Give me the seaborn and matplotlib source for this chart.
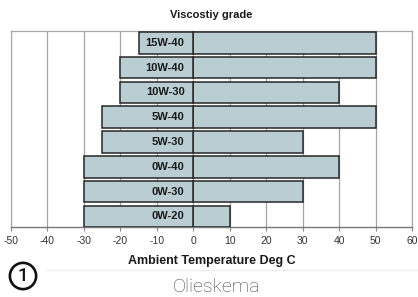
import numpy as np
import pandas as pd
import matplotlib.pyplot as plt
import seaborn as sns

grades = ["15W-40", "10W-40", "10W-30", "5W-40", "5W-30", "0W-40", "0W-30", "0W-20"]
low_temp = [-15, -20, -20, -25, -25, -30, -30, -30]
high_temp = [50, 50, 40, 50, 30, 40, 30, 10]
xticks = [-50, -40, -30, -20, -10, 0, 10, 20, 30, 40, 50, 60]

df = pd.DataFrame({"grade": grades, "low": low_temp, "high": high_temp})

sns.set_theme(style="white")
plt.rcParams["font.family"] = ["Liberation Sans", "DejaVu Sans"]

fig = plt.figure(figsize=(4.18, 2.97), dpi=100)
ax = fig.add_axes([11 / 418, 1 - 227.3 / 297, 401 / 418, 196.3 / 297])

fill = "#b9cdd3"
edge = "#262626"
sns.barplot(data=df, x="high", y="grade", orient="h", color=fill, width=0.87,
            edgecolor=edge, linewidth=1.1, saturation=1, ax=ax, zorder=3)
sns.barplot(data=df, x="low", y="grade", orient="h", color=fill, width=0.87,
            edgecolor=edge, linewidth=1.1, saturation=1, ax=ax, zorder=3)

for i, g in enumerate(grades):
    ax.text(-2.4, i, g, ha="right", va="center", fontsize=8, fontweight="bold",
            color="#1a1a1a", zorder=4)

ax.set_xlim(-50, 60)
ax.set_ylim(7.44, -0.48)
ax.set_xticks(xticks)
ax.set_xticklabels([str(t) for t in xticks], fontsize=7.5, color="#333333")
ax.set_yticks([])
ax.set_ylabel("")
ax.set_xlabel("Ambient Temperature Deg C", fontsize=9, fontweight="bold",
              color="#1a1a1a", labelpad=7)
ax.xaxis.grid(True, color="#a9a3a3", linewidth=0.9, zorder=0)
ax.set_axisbelow(True)
ax.tick_params(axis="x", length=3, width=0.8, color="#888888", pad=3, bottom=True)

for side in ["left", "right", "top"]:
    ax.spines[side].set_color("#aaaaaa")
    ax.spines[side].set_linewidth(0.9)
ax.spines["bottom"].set_color("#777777")
ax.spines["bottom"].set_linewidth(1.0)

fig.text(211 / 418, 1 - 15.5 / 297, "Viscostiy grade", ha="center", va="center",
         fontsize=8, fontweight="bold", color="#1a1a1a")

fig.add_artist(plt.Line2D([0.11, 1.0], [1 - 270 / 297] * 2, color="#ececec", lw=0.8))

fig.text(23 / 418, 1 - 276 / 297, "1", ha="center", va="center", fontsize=13.5,
         fontweight="medium", family=["Roboto", "DejaVu Sans"], color="#111111",
         bbox=dict(boxstyle="circle,pad=0.22", fc="white", ec="#111111", lw=1.9))
fig.text(216 / 418, 1 - 287 / 297, "Olieskema", ha="center", va="center",
         fontsize=14, family=["Roboto", "DejaVu Sans"], fontweight="light",
         color="#444444")

fig.savefig("out.png", dpi=100)
